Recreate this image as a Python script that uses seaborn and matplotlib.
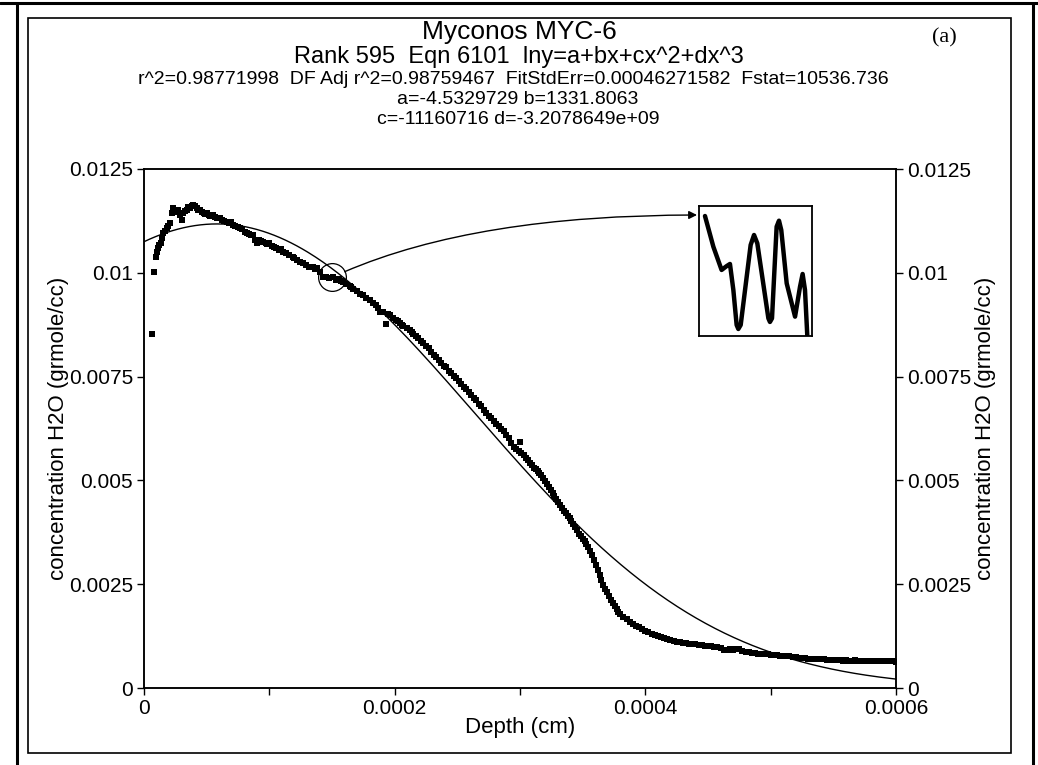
import numpy as np
import pandas as pd
import matplotlib
matplotlib.use("Agg")
import matplotlib.pyplot as plt
from matplotlib.patches import Rectangle
from matplotlib.lines import Line2D
import seaborn as sns

# measured H2O profile read off the plot
# depth in units of 1e-6 cm, concentration in units of 1e-3 grmole/cc
depth_e6 = [6.6, 8.0, 9.6, 10.5, 11.4, 12.3, 13.3, 14.2, 15.4, 16.5, 18.0, 19.2, 20.7,
            22.0, 23.3, 24.5, 26.0, 27.5, 29.0, 30.0, 31.3, 32.5, 34.0, 35.5, 36.6, 38.0,
            39.2, 40.6, 42.0, 43.3, 44.6, 46.0, 47.5, 49.0, 50.0, 51.5, 53.0, 55.0, 56.5,
            58.0, 60.6, 62.0, 64.0, 66.0, 68.0, 69.5, 71.0, 73.0, 75.0, 76.5, 78.5, 80.5,
            82.0, 84.0, 85.5, 87.0, 88.5, 89.8, 91.5, 93.0, 95.0, 97.0, 98.5, 100.0, 102.0,
            104.0, 105.7, 108.0, 109.5, 111.0, 113.5, 116.0, 118.5, 120.0, 122.0, 124.3,
            127.0, 129.5, 132.0, 135.0, 136.5, 138.0, 140.5, 143.0, 145.5, 148.0, 150.5,
            153.0, 155.5, 157.5, 159.0, 161.5, 164.0, 165.5, 167.0, 170.0, 172.5, 175.0,
            177.5, 180.0, 182.5, 185.0, 187.0, 188.5, 191.0, 193.0, 194.5, 196.0, 198.5,
            201.0, 202.5, 204.0, 205.5, 207.0, 209.5, 212.0, 213.5,
            215.0, 217.0, 219.0, 221.0, 223.0, 225.0, 227.0, 229.0, 231.0, 233.0, 235.0,
            237.0, 239.0, 241.0, 243.0, 245.0, 247.0, 249.0, 251.0, 253.0, 255.0, 257.0,
            259.0, 261.0, 263.0, 265.0, 267.0, 269.0, 271.0, 273.0, 275.0, 277.0, 279.0,
            281.0, 283.0, 285.0, 287.0, 289.0, 291.0, 293.0, 295.0, 297.0, 299.0, 300.0,
            301.0, 303.0,
            305.0, 306.5, 308.0, 309.5, 311.0, 312.5, 314.0, 315.5, 317.0, 318.5, 320.0,
            321.5, 323.0, 324.5, 326.0, 327.5, 329.0, 330.5, 332.0, 333.5, 335.0, 336.5,
            338.0, 339.5, 341.0, 342.5, 344.0, 345.5, 347.0, 348.5, 350.0, 351.5, 353.0,
            354.5, 356.0, 357.5, 359.0, 360.5, 362.0, 363.5, 365.0, 366.5, 368.0, 369.5,
            371.0, 372.5, 374.0, 375.5, 377.0, 378.5, 380.0,
            382.5, 385.0, 387.5, 390.0, 392.5, 395.0, 397.5, 400.0, 402.5, 405.0, 407.5,
            410.0, 412.5, 415.0, 417.5, 420.0, 422.5, 425.0, 427.5, 430.0, 432.5, 435.0,
            437.5, 440.0, 442.5, 445.0, 447.5, 450.0, 452.5, 455.0, 457.5, 460.0, 462.5,
            465.0, 467.5, 470.0, 472.5, 475.0, 477.5, 480.0, 482.5, 485.0, 487.5, 490.0,
            492.5, 495.0, 497.5, 500.0, 502.5, 505.0, 507.5, 510.0, 512.5, 515.0, 517.5,
            520.0, 522.5, 525.0, 527.5, 530.0, 532.5, 535.0, 537.5, 540.0, 542.5, 545.0,
            547.5, 550.0, 552.5, 555.0, 557.5, 560.0, 562.5, 565.0, 567.5, 570.0, 572.5,
            575.0, 577.5, 580.0, 582.5, 585.0, 587.5, 590.0, 592.5, 595.0, 597.5, 600.0]
conc_e3 = [8.52, 10.03, 10.39, 10.50, 10.59, 10.66, 10.71, 10.85, 10.95, 11.00, 11.07, 11.12,
           11.19, 11.45, 11.55, 11.50, 11.47, 11.52, 11.40, 11.27, 11.43, 11.50, 11.52, 11.58,
           11.55, 11.60, 11.63, 11.62, 11.57, 11.52, 11.51, 11.47, 11.45, 11.42, 11.43, 11.40,
           11.38, 11.39, 11.34, 11.33, 11.31, 11.28, 11.25, 11.23, 11.19, 11.22, 11.15, 11.12,
           11.10, 11.07, 11.05, 10.98, 10.95, 10.94, 10.90, 10.91, 10.80, 10.71, 10.78, 10.76,
           10.75, 10.72, 10.70, 10.71, 10.65, 10.62, 10.59, 10.55, 10.57, 10.51, 10.47, 10.43,
           10.38, 10.35, 10.31, 10.27, 10.23, 10.19, 10.15, 10.13, 10.09, 10.11, 10.01, 9.91,
           9.89, 9.87, 9.90, 9.83, 9.85, 9.80, 9.78, 9.74, 9.68, 9.66, 9.62, 9.56, 9.50,
           9.46, 9.40, 9.34, 9.28, 9.22, 9.16, 9.06, 9.06, 8.76, 9.00, 8.98, 8.92, 8.86,
           8.84, 8.80, 8.75, 8.72, 8.68, 8.62, 8.57,
           8.52, 8.47, 8.43, 8.36, 8.31, 8.24, 8.19, 8.10, 8.03, 7.97, 7.89, 7.83, 7.76,
           7.72, 7.64, 7.58, 7.51, 7.47, 7.39, 7.33, 7.26, 7.21, 7.12, 7.06, 6.98, 6.93,
           6.84, 6.78, 6.70, 6.62, 6.56, 6.50, 6.43, 6.35, 6.31, 6.24, 6.18, 6.10, 6.01,
           5.89, 5.80, 5.75, 5.70, 5.93, 5.66, 5.60,
           5.53, 5.48, 5.41, 5.37, 5.31, 5.27, 5.22, 5.17, 5.12, 5.05, 4.98, 4.92, 4.85,
           4.77, 4.69, 4.62, 4.55, 4.48, 4.41, 4.34, 4.27, 4.21, 4.15, 4.09, 4.03, 3.96,
           3.87, 3.80, 3.72, 3.66, 3.60, 3.54, 3.47, 3.39, 3.29, 3.20, 3.09, 2.96, 2.84,
           2.72, 2.60, 2.48, 2.39, 2.31, 2.22, 2.13, 2.05, 1.98, 1.91, 1.84, 1.78,
           1.72, 1.66, 1.60, 1.54, 1.50, 1.46, 1.42, 1.37, 1.34, 1.31, 1.28, 1.25, 1.23,
           1.20, 1.18, 1.15, 1.12, 1.11, 1.10, 1.08, 1.08, 1.06, 1.07, 1.05, 1.04, 1.04,
           1.02, 1.02, 1.01, 0.99, 0.99, 0.96, 0.92, 0.91, 0.93, 0.92, 0.94, 0.93, 0.89,
           0.87, 0.86, 0.85, 0.84, 0.83, 0.82, 0.81, 0.81, 0.80, 0.79, 0.79, 0.78, 0.77,
           0.76, 0.76, 0.75, 0.74, 0.73, 0.72, 0.72, 0.71, 0.71, 0.70, 0.70, 0.69, 0.69,
           0.68, 0.68, 0.68, 0.67, 0.67, 0.66, 0.67, 0.66, 0.66, 0.67, 0.66, 0.65, 0.66,
           0.65, 0.65, 0.66, 0.65, 0.64, 0.64, 0.65, 0.64, 0.64, 0.63]

# fitted model from the header:  ln y = a + b x + c x^2 + d x^3
fit_a = -4.5329729
fit_b = 1331.8063
fit_c = -11160716
fit_d = -3.2078649e9

# blown-up wiggle shown in the inset (inset box units 0..1)
inset_x = [0.053, 0.127, 0.200, 0.245, 0.274, 0.304, 0.333, 0.348, 0.369, 0.457, 0.487,
           0.516, 0.614, 0.628, 0.646, 0.687, 0.708, 0.728, 0.776, 0.850, 0.894, 0.917,
           0.938, 0.958]
inset_y = [0.923, 0.687, 0.508, 0.538, 0.554, 0.354, 0.085, 0.054, 0.085, 0.700, 0.777,
           0.713, 0.136, 0.108, 0.136, 0.841, 0.887, 0.815, 0.405, 0.149, 0.379, 0.477,
           0.354, 0.008]

# circled spot that the inset magnifies
circle_depth = 1.5e-4
circle_conc = 0.00989

x_ticks = [0, 0.0002, 0.0004, 0.0006]
x_ticklabels = ["0", "0.0002", "0.0004", "0.0006"]
x_minor = [0.0001, 0.0003, 0.0005]
y_ticks = [0, 0.0025, 0.005, 0.0075, 0.01, 0.0125]
y_ticklabels = ["0", "0.0025", "0.005", "0.0075", "0.01", "0.0125"]

title = "Myconos MYC-6"
subtitle = "Rank 595  Eqn 6101  lny=a+bx+cx^2+dx^3"
stats_line = "r^2=0.98771998  DF Adj r^2=0.98759467  FitStdErr=0.00046271582  Fstat=10536.736"
coef_line1 = "a=-4.5329729 b=1331.8063"
coef_line2 = "c=-11160716 d=-3.2078649e+09"
ylab = "concentration H2O (grmole/cc)"

sns.set_style("ticks", {"axes.edgecolor": "black", "xtick.color": "black",
                        "ytick.color": "black", "text.color": "black"})
plt.rcParams["font.family"] = ["Liberation Sans", "DejaVu Sans"]

W, H = 1038, 765
fig = plt.figure(figsize=(W / 100, H / 100), dpi=100)


def box(left, top, right, bottom):
    return [left / W, 1 - bottom / H, (right - left) / W, (bottom - top) / H]


def ftext(x, y, s, size, **kw):
    fig.text(x / W, 1 - y / H, s, fontsize=size, ha="center", va="center", **kw)


ax = fig.add_axes(box(144, 169, 896, 688))

df = pd.DataFrame({"depth": np.array(depth_e6) * 1e-6, "conc": np.array(conc_e3) * 1e-3})
xs = np.linspace(0, 0.0006, 400)
fit = pd.DataFrame({"depth": xs,
                    "conc": np.exp(fit_a + fit_b * xs + fit_c * xs ** 2 + fit_d * xs ** 3)})

sns.lineplot(data=fit, x="depth", y="conc", ax=ax, color="black", lw=1.0)
sns.scatterplot(data=df, x="depth", y="conc", ax=ax, marker="s", s=15,
                color="black", linewidth=0)

ax.plot([circle_depth], [circle_conc], marker="o", ms=20, mfc="none", mec="black", mew=0.9)

ax.set_xlim(0, 0.0006)
ax.set_ylim(0, 0.0125)
ax.set_xticks(x_ticks)
ax.set_xticklabels(x_ticklabels)
ax.set_xticks(x_minor, minor=True)
ax.set_yticks(y_ticks)
ax.set_yticklabels(y_ticklabels)
ax.set_xlabel("")
ax.set_ylabel("")
ax.tick_params(which="both", direction="out", length=5, width=1, labelsize=15, pad=3)
for sp in ax.spines.values():
    sp.set_linewidth(1.1)

ax2 = ax.twinx()
ax2.set_ylim(0, 0.0125)
ax2.set_yticks(y_ticks)
ax2.set_yticklabels(y_ticklabels)
ax2.tick_params(direction="out", length=5, width=1, labelsize=15, pad=3)
for sp in ax2.spines.values():
    sp.set_linewidth(1.1)

# inset with the magnified wiggle
ax_in = fig.add_axes(box(699, 206, 812, 336))
ax_in.plot(inset_x, inset_y, color="black", lw=3.2, solid_joinstyle="round",
           solid_capstyle="round")
ax_in.set_xlim(0, 1)
ax_in.set_ylim(0, 1)
ax_in.set_xticks([])
ax_in.set_yticks([])
for sp in ax_in.spines.values():
    sp.set_linewidth(1.3)

ax.annotate("", xy=(697 / W, 1 - 215 / H), xycoords="figure fraction",
            xytext=(circle_depth, circle_conc), textcoords="data",
            arrowprops=dict(arrowstyle="-|>", color="black", lw=1, shrinkA=10, shrinkB=0,
                            mutation_scale=12,
                            connectionstyle="angle3,angleA=25,angleB=0"))

# header text
ftext(519, 32, title, 19)
ftext(944, 38, "(a)", 16, family="Liberation Serif")
ftext(519, 57, subtitle, 17)
ftext(513, 79, stats_line, 14)
ftext(518, 100, coef_line1, 14)
ftext(518, 120, coef_line2, 14)

ftext(520, 727, "Depth (cm)", 16)
ftext(59, 428, ylab, 16, rotation=90)
ftext(985, 428, ylab, 16, rotation=90)

# page frame
fig.add_artist(Rectangle((28 / W, 1 - 753 / H), (1011 - 28) / W, (753 - 18) / H,
                         transform=fig.transFigure, fill=False, lw=1.2, ec="black"))
for xx in (17, 1033):
    fig.add_artist(Line2D([xx / W, xx / W], [0, 1 - 3 / H], transform=fig.transFigure,
                          color="black", lw=2.2))
fig.add_artist(Line2D([0, 1], [1 - 3 / H, 1 - 3 / H], transform=fig.transFigure,
                      color="black", lw=2.2))

fig.savefig("out.png", dpi=100)
